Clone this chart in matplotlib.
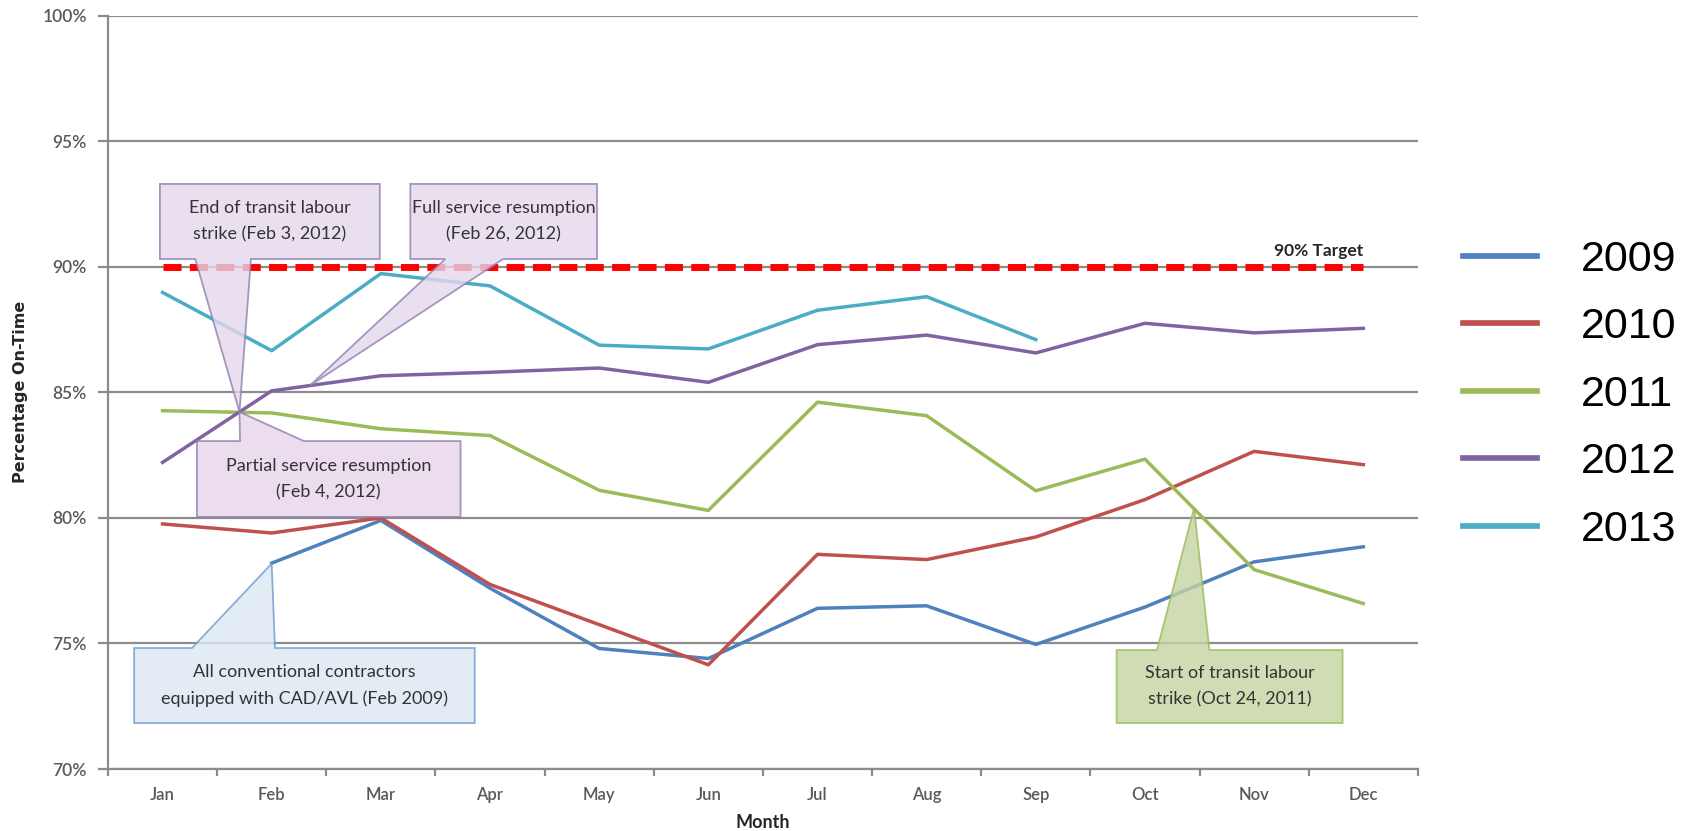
import numpy as np
import matplotlib.pyplot as plt
from matplotlib.patches import Polygon

### Monthly on-time performance (%)
months = ['Jan', 'Feb', 'Mar', 'Apr', 'May', 'Jun', 'Jul', 'Aug', 'Sep', 'Oct', 'Nov', 'Dec']
years = ['2009', '2010', '2011', '2012', '2013']
ontime_2009 = [np.nan, 78.2, 79.9, 77.2, 74.8, 74.4, 76.4, 76.5, 74.96, 76.45, 78.25, 78.85]
ontime_2010 = [79.76, 79.4, 80.0, 77.35, 75.75, 74.15, 78.55, 78.34, 79.24, 80.73, 82.65, 82.12]
ontime_2011 = [84.27, 84.18, 83.55, 83.28, 81.1, 80.3, 84.61, 84.07, 81.08, 82.34, 77.94, 76.59]
ontime_2012 = [82.21, 85.06, 85.66, 85.8, 85.97, 85.4, 86.9, 87.28, 86.57, 87.75, 87.37, 87.55]
ontime_2013 = [88.98, 86.66, 89.73, 89.24, 86.88, 86.73, 88.27, 88.81, 87.1, np.nan, np.nan, np.nan]
target = 90

colors = ['#4f81bd', '#c0504d', '#9bbb59', '#8064a2', '#4bacc6']
series = [ontime_2009, ontime_2010, ontime_2011, ontime_2012, ontime_2013]

calibri = ['Lato', 'DejaVu Sans']
txt_col = '#333333'
tick_col = '#595959'

fig = plt.figure(figsize=(16.92, 8.31), dpi=100)
ax = fig.add_axes([0.0638, 0.0746, 0.7742, 0.9065])

x = np.arange(len(months))

## gridlines
for yv in range(70, 101, 5):
    ax.axhline(yv, color='#8c8c8c', lw=1.6, zorder=1)

## year lines
handles = []
for yr, vals, c in zip(years, series, colors):
    h, = ax.plot(x, vals, color=c, lw=2.5, zorder=3, label=yr)
    handles.append(h)

## 90% target
ax.plot(x, [target] * len(x), color='#ff0000', lw=5, dashes=(2.6, 1.2), zorder=4)
ax.text(11, target + 0.3, '90% Target', ha='right', va='bottom', fontsize=12.5,
        fontweight='bold', family=calibri, color='#262626')


## Callout boxes: box edges + wedge base on one edge + tip point
def callout(x0, x1, y0, y1, b0, b1, tip, text, fc, ec, wedge='bottom'):
    if wedge == 'bottom':
        pts = [(x0, y1), (x1, y1), (x1, y0), (b1, y0), tip, (b0, y0), (x0, y0)]
    else:
        pts = [(x0, y0), (x1, y0), (x1, y1), (b1, y1), tip, (b0, y1), (x0, y1)]
    ax.add_patch(Polygon(pts, closed=True, facecolor=fc, edgecolor=ec, lw=1.3,
                         alpha=0.8, zorder=5, clip_on=False))
    ax.text((x0 + x1) / 2, (y0 + y1) / 2, text, ha='center', va='center',
            fontsize=13, family=calibri, color=txt_col, linespacing=1.8, zorder=6)


purple_fc, purple_ec = '#e4d7ec', '#8f80b0'
callout(-0.024, 1.99, 90.31, 93.30, 0.30, 0.81, (0.705, 84.22),
        'End of transit labour\nstrike (Feb 3, 2012)', purple_fc, purple_ec)
callout(2.27, 3.98, 90.31, 93.30, 2.59, 3.12, (1.35, 85.27),
        'Full service resumption\n(Feb 26, 2012)', purple_fc, purple_ec)
callout(0.315, 2.73, 80.04, 83.06, 0.71, 1.295, (0.705, 84.22),
        'Partial service resumption\n(Feb 4, 2012)', '#e6d4ea', purple_ec, wedge='top')
callout(-0.26, 2.86, 71.83, 74.82, 0.27, 1.03, (1.0, 78.18),
        'All conventional contractors\nequipped with CAD/AVL (Feb 2009)', '#dce6f2', '#6f9bd0', wedge='top')
callout(8.74, 10.81, 71.83, 74.74, 9.11, 9.59, (9.45, 80.4),
        'Start of transit labour\nstrike (Oct 24, 2011)', '#c5d4a0', '#9bbb59', wedge='top')

## axes
ax.set_xlim(-0.5, 11.5)
ax.set_ylim(70, 100)
ax.set_yticks(range(70, 101, 5))
ax.set_yticklabels(['%d%%' % v for v in range(70, 101, 5)])
ax.set_xticks(np.arange(-0.5, 12, 1))
ax.set_xticklabels([])
ax.set_xticks(x, minor=True)
ax.set_xticklabels(months, minor=True)
ax.tick_params(axis='x', which='major', direction='out', length=5, width=1.6, color='#8c8c8c')
ax.tick_params(axis='x', which='minor', length=0, pad=13, labelsize=12, labelcolor=tick_col)
ax.tick_params(axis='y', direction='out', length=7, width=1.6, color='#8c8c8c', pad=8,
               labelsize=12.5, labelcolor=tick_col)
for lab in ax.get_xticklabels(minor=True) + ax.get_yticklabels():
    lab.set_family(calibri)
    lab.set_fontweight('semibold')
for s in ['top', 'right']:
    ax.spines[s].set_visible(False)
for s in ['left', 'bottom']:
    ax.spines[s].set_color('#8c8c8c')
    ax.spines[s].set_linewidth(1.6)

fig.text(763 / 1692, 1 - 822 / 831, 'Month', ha='center', va='center', fontsize=13,
         fontweight='bold', family=calibri, color='#262626')
fig.text(21 / 1692, 1 - 392 / 831, 'Percentage On-Time', rotation=90, ha='center', va='center',
         fontsize=11.5, fontweight='bold', family=['Liberation Sans Narrow', 'DejaVu Sans'], color='#262626')

## legend on the right
leg = fig.legend(handles=handles, loc='center left', bbox_to_anchor=(1463 / 1692, 0.525),
                 frameon=False, borderpad=0, borderaxespad=0,
                 handlelength=1.73, handletextpad=1.0, labelspacing=0.64,
                 prop={'family': 'Liberation Sans', 'size': 31})
for line in leg.get_lines():
    line.set_linewidth(4.1)

fig.savefig('out.png', dpi=100)
